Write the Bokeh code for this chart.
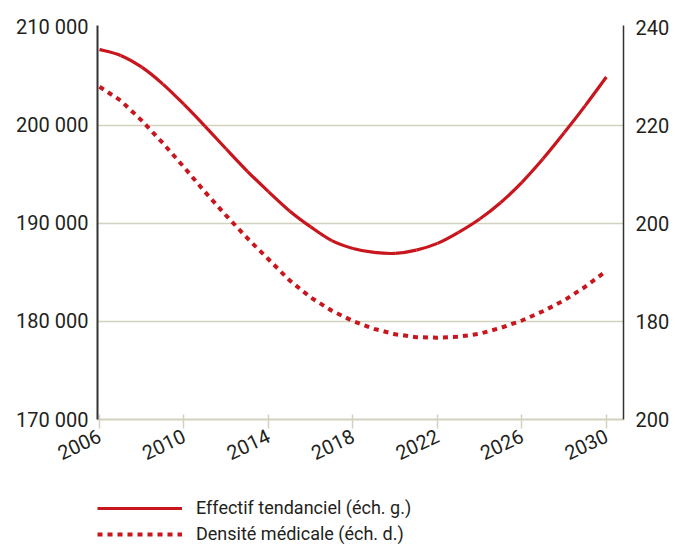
from bokeh.plotting import figure
from bokeh.layouts import column
from bokeh.models import Range1d, LinearAxis, FixedTicker, Legend, LegendItem
from bokeh.embed import file_html
from bokeh.resources import INLINE

# ---- data ----
years = list(range(2006, 2031))
effectif = [207750, 207150, 205950, 204225, 202150, 199920, 197600, 195330,
            193250, 191280, 189650, 188250, 187450, 187050, 186950, 187280,
            187970, 189100, 190460, 192150, 194200, 196600, 199250, 202030,
            204950]
densite = [227.9, 225.1, 221.0, 216.4, 211.5, 206.4, 201.6, 197.0, 192.7,
           188.4, 184.9, 182.2, 180.1, 178.5, 177.4, 176.8, 176.7, 176.9,
           177.5, 178.7, 180.2, 182.1, 184.3, 187.1, 190.3]
x_ticks = [2006, 2010, 2014, 2018, 2022, 2026, 2030]
left_ticks = [170000, 180000, 190000, 200000, 210000]
right_ticks = [160, 180, 200, 220, 240]
right_tick_labels = ["200", "180", "200", "220", "240"]
legend_labels = ["Effectif tendanciel (éch. g.)", "Densité médicale (éch. d.)"]

RED = "#c8161e"
BEIGE = "#d3d1bf"
TXT = "#231f20"
FONT = "Roboto"
SOLID = dict(line_color=RED, line_width=3.2)
DOTTED = dict(line_color=RED, line_width=4, line_dash="5 5")

p = figure(width=675, height=490, output_backend="svg", toolbar_location=None,
           x_range=Range1d(2005.905, 2030.81), y_range=Range1d(170000, 210204),
           min_border_left=97, min_border_right=52, min_border_top=25,
           min_border_bottom=71)
p.outline_line_color = None
p.background_fill_color = "white"
p.border_fill_color = "white"

p.extra_y_ranges = {"dens": Range1d(160, 240.41)}

# smooth (Catmull-Rom) rendering of the yearly series with bezier segments
n = len(years)
x0, y0, x1, y1, cx0, cy0, cx1, cy1 = [], [], [], [], [], [], [], []
for i in range(n - 1):
    a = max(i - 1, 0)
    d = min(i + 2, n - 1)
    x0.append(years[i]); y0.append(effectif[i])
    x1.append(years[i + 1]); y1.append(effectif[i + 1])
    cx0.append(years[i] + (years[i + 1] - years[a]) / 6)
    cy0.append(effectif[i] + (effectif[i + 1] - effectif[a]) / 6)
    cx1.append(years[i + 1] - (years[d] - years[i]) / 6)
    cy1.append(effectif[i + 1] - (effectif[d] - effectif[i]) / 6)

p.bezier(x0=x0, y0=y0, x1=x1, y1=y1, cx0=cx0, cy0=cy0, cx1=cx1, cy1=cy1, **SOLID)
p.line(years, densite, y_range_name="dens", **DOTTED)

# grid
p.xgrid.visible = False
p.ygrid.ticker = FixedTicker(ticks=[180000, 190000, 200000])
p.ygrid.grid_line_color = BEIGE
p.ygrid.grid_line_width = 1.5

# x axis
xa = p.xaxis[0]
xa.ticker = FixedTicker(ticks=x_ticks)
xa.axis_line_color = BEIGE
xa.axis_line_width = 2
xa.major_tick_line_color = BEIGE
xa.major_tick_line_width = 1.5
xa.major_tick_in = 5
xa.major_tick_out = 9
xa.minor_tick_line_color = None
xa.major_label_orientation = 0.44
xa.major_label_text_font = FONT
xa.major_label_text_font_size = "20px"
xa.major_label_text_color = TXT
xa.major_label_standoff = 6

# left axis
ya = p.yaxis[0]
ya.ticker = FixedTicker(ticks=left_ticks)
ya.major_label_overrides = {t: f"{t:,}".replace(",", " ") for t in left_ticks}
ya.axis_line_color = "#333333"
ya.axis_line_width = 2
ya.major_tick_line_color = None
ya.minor_tick_line_color = None
ya.major_tick_in = 0
ya.major_tick_out = 0
ya.major_label_standoff = 9
ya.major_label_text_font = FONT
ya.major_label_text_font_size = "20px"
ya.major_label_text_color = TXT

# right axis
ra = LinearAxis(y_range_name="dens")
ra.ticker = FixedTicker(ticks=right_ticks)
ra.major_label_overrides = {t: l for t, l in zip(right_ticks, right_tick_labels)}
ra.axis_line_color = "#333333"
ra.axis_line_width = 1.5
ra.major_tick_line_color = None
ra.minor_tick_line_color = None
ra.major_tick_in = 0
ra.major_tick_out = 0
ra.major_label_standoff = 12
ra.major_label_text_font = FONT
ra.major_label_text_font_size = "20px"
ra.major_label_text_color = TXT
p.add_layout(ra, "right")

# ---- legend strip below the chart ----
lg = figure(width=675, height=57, output_backend="svg", toolbar_location=None,
            x_range=Range1d(0, 1), y_range=Range1d(0, 1), min_border=0)
lg.axis.visible = False
lg.grid.visible = False
lg.outline_line_color = None
# same series, styled like the chart (outside this strip's view; used for legend)
l1 = lg.line(years, effectif, **SOLID)
l2 = lg.line(years, densite, **DOTTED)
legend = Legend(items=[LegendItem(label=legend_labels[0], renderers=[l1]),
                       LegendItem(label=legend_labels[1], renderers=[l2])],
                location=(0, 3), orientation="vertical",
                glyph_width=85, glyph_height=20, label_height=20,
                label_standoff=14, spacing=5, padding=0, margin=0,
                label_text_font=FONT, label_text_font_size="18px",
                label_text_color=TXT, border_line_color=None,
                background_fill_alpha=0)
lg.add_layout(legend, "center")

open("out.html", "w").write(file_html(column(p, lg, spacing=0), INLINE))
